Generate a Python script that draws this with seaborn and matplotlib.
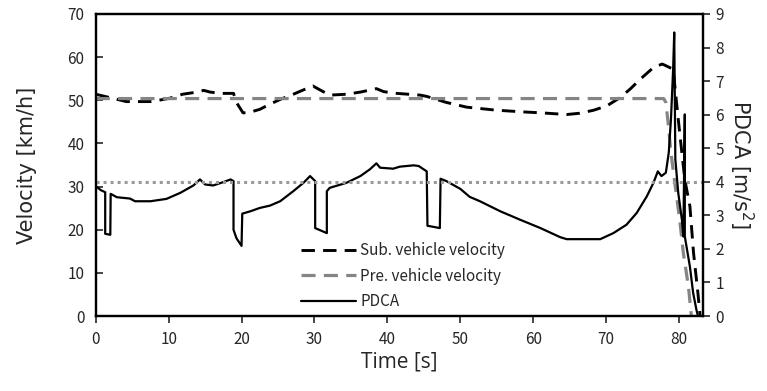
import numpy as np
import pandas as pd
import matplotlib
matplotlib.use('Agg')
import matplotlib.pyplot as plt
import seaborn as sns

# PDCA [m/s^2] (right axis)
pdca_t = [0, 0.7, 1.3, 1.3, 2.0, 2.05, 2.9, 4.7, 5.4, 7.5,
          9.7, 11.6, 13.4, 14.3, 15.0, 16.1, 17.5, 18.5, 18.9, 18.9,
          19.3, 20.0, 20.1, 21.2, 22.5, 23.9, 25.3, 27.1, 28.5, 29.4,
          30.1, 30.1, 31.7, 31.7, 32.1, 34.4, 36.3, 37.6, 38.5, 39.0,
          40.8, 41.7, 43.6, 44.3, 45.4, 45.5, 47.2, 47.3, 48.1, 50.0,
          51.3, 52.7, 55.5, 58.2, 61.0, 63.7, 64.6, 69.2, 71.0, 72.8,
          74.2, 75.6, 76.5, 77.1, 77.6, 78.2, 78.6, 78.9, 79.2, 79.35,
          79.5, 79.9, 80.4, 80.6, 80.8, 80.8, 81.5, 81.95, 82.4, 82.6]
pdca_a = [3.87, 3.75, 3.69, 2.45, 2.42, 3.64, 3.54, 3.50, 3.42, 3.42,
          3.49, 3.67, 3.89, 4.07, 3.92, 3.89, 3.99, 4.07, 4.02, 2.57,
          2.32, 2.09, 3.05, 3.12, 3.22, 3.29, 3.42, 3.72, 3.97, 4.17,
          4.02, 2.62, 2.47, 3.72, 3.82, 3.97, 4.17, 4.37, 4.55, 4.42,
          4.39, 4.45, 4.49, 4.47, 4.31, 2.69, 2.62, 4.09, 4.02, 3.79,
          3.55, 3.42, 3.12, 2.87, 2.62, 2.35, 2.29, 2.29, 2.47, 2.72,
          3.07, 3.57, 3.97, 4.31, 4.17, 4.27, 4.87, 5.86, 7.36, 8.45,
          4.67, 3.67, 2.87, 2.37, 6.01, 2.37, 1.47, 0.68, 0.18, 0.0]

# subject vehicle velocity [km/h]
sub_t = [0, 2.0, 4.2, 7.7, 10.2, 11.9, 13.9, 14.8, 15.7, 17.1,
         18.9, 19.3, 20.2, 20.9, 22.5, 23.9, 25.3, 27.1, 28.9, 29.8,
         31.2, 32.1, 34.4, 36.3, 38.5, 39.5, 41.3, 44.5, 45.4, 48.1,
         50.9, 55.0, 58.7, 61.0, 64.6, 66.4, 68.3, 70.1, 71.9, 73.3,
         74.7, 76.5, 77.7, 78.1, 79.2, 79.9, 80.4, 80.8, 81.5, 82.0,
         82.6, 82.9]
sub_v = [51.4, 50.6, 49.7, 49.7, 50.5, 51.4, 51.9, 52.3, 51.9, 51.6,
         51.6, 49.5, 47.1, 47.1, 47.9, 49.1, 50.2, 51.4, 52.7, 53.3,
         52.0, 51.2, 51.4, 51.9, 52.7, 52.0, 51.6, 51.2, 50.9, 49.5,
         48.4, 47.7, 47.3, 47.1, 46.7, 47.0, 47.7, 48.7, 50.6, 52.6,
         54.9, 57.6, 58.4, 58.1, 57.2, 45.6, 37.8, 31.6, 25.4, 14.6,
         5.3, 0.0]

# preceding vehicle velocity [km/h]
pre_t = [0, 77.9, 78.2, 78.5, 78.9, 79.5, 80.1, 80.6, 81.3, 81.7]
pre_v = [50.4, 50.4, 49.5, 45.0, 37.8, 30.0, 22.3, 14.6, 6.8, 0.0]

threshold = 4.0

sns.set_style('ticks')
plt.rcParams['font.family'] = ['Noto Sans CJK JP', 'DejaVu Sans']

fig = plt.figure(figsize=(7.67, 3.91), dpi=100)
ax = fig.add_axes([0.1248, 0.1918, 0.7918, 0.7724])
ax2 = ax.twinx()

sns.lineplot(x=sub_t, y=sub_v, ax=ax, color='black', lw=2.1,
             linestyle=(0, (4.6, 2.8)), estimator=None, sort=False,
             label='Sub. vehicle velocity', legend=False)
sns.lineplot(x=pre_t, y=pre_v, ax=ax, color='#858585', lw=2.3,
             linestyle=(0, (4.4, 2.6)), estimator=None, sort=False,
             label='Pre. vehicle velocity', legend=False)
sns.lineplot(x=pdca_t, y=pdca_a, ax=ax2, color='black', lw=1.6,
             estimator=None, sort=False, label='PDCA', legend=False)
ax2.axhline(threshold, color='#9a9a9a', lw=2.2, linestyle=(0, (1, 1.3)))

ax.set_xlim(0, 83.3)
ax.set_ylim(0, 70)
ax2.set_ylim(0, 9)
ax.set_xticks(np.arange(0, 81, 10))
ax.set_yticks(np.arange(0, 71, 10))
ax2.set_yticks(np.arange(0, 10, 1))

ax.set_xlabel('Time [s]', fontsize=15, family='Open Sans', labelpad=2)
ax.set_ylabel('Velocity [km/h]', fontsize=15, family='DejaVu Sans', labelpad=22)
ax2.set_ylabel('PDCA [m/s$^2$]', fontsize=15, family='DejaVu Sans',
               rotation=270, labelpad=22)

ax.tick_params(axis='y', direction='in', length=5, width=1.2, labelsize=11, pad=8)
ax.tick_params(axis='x', direction='out', length=5, width=1.2, labelsize=11, pad=6)
ax2.tick_params(axis='y', direction='out', length=5, width=1.2, labelsize=11, pad=4)
for a in (ax, ax2):
    for s in a.spines.values():
        s.set_linewidth(1.6)
        s.set_color('black')

handles = ax.get_lines()[:2] + ax2.get_lines()[:1]
ax2.legend(handles, [h.get_label() for h in handles], loc='upper left',
           bbox_to_anchor=(0.325, 0.27), frameon=False, fontsize=11,
           handlelength=3.6, handletextpad=0.3, labelspacing=0.55,
           borderpad=0)

fig.savefig('out.png', dpi=100)
